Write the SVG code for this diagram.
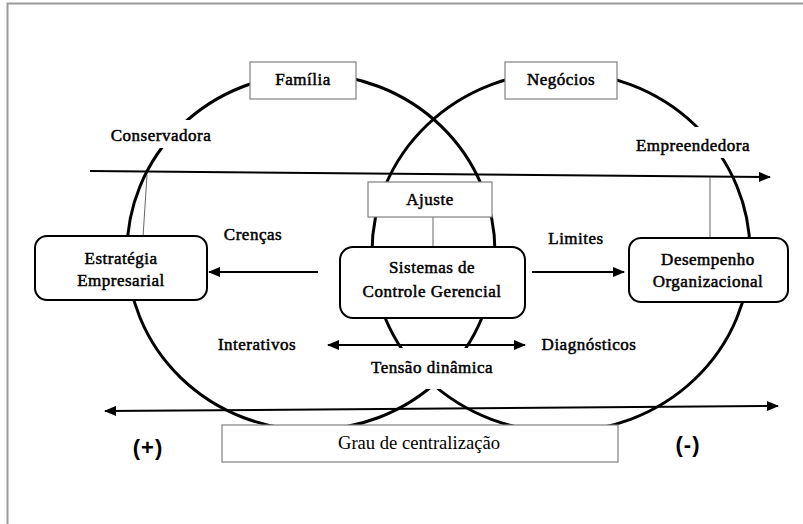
<svg xmlns="http://www.w3.org/2000/svg" width="803" height="524" viewBox="0 0 803 524">
  <style>
    .lbl { font-size: 17px; fill: #000; stroke: #000; stroke-width: 0.5px; text-anchor: middle; letter-spacing: 0.5px; }
    .sign { font-weight: bold; font-size: 22px; fill: #000; text-anchor: middle; letter-spacing: 1px; }
    .sq { fill: #fff; stroke: #808080; stroke-width: 1.2; }
    .rnd { fill: #fff; stroke: #000; stroke-width: 2; }
    .ring { fill: none; stroke: #000; stroke-width: 3; }
    .arr { fill: none; stroke: #000; stroke-width: 2; }
    .thin { fill: none; stroke: #666; stroke-width: 1; }
    .mask { fill: #fff; stroke: none; }
  </style>
  <defs>
    <marker id="head" markerWidth="12" markerHeight="10" refX="11" refY="5" orient="auto-start-reverse" markerUnits="userSpaceOnUse">
      <path d="M0,0 L12,5 L0,10 z" fill="#000"/>
    </marker>
  </defs>

  <rect width="803" height="524" fill="#fff"/>
  <!-- page frame -->
  <path d="M7.5,524 V3.5 H803" fill="none" stroke="#9a9a9a" stroke-width="2"/>

  <!-- two overlapping rings: Família (left) and Negócios (right) -->
  <g id="rings">
    <ellipse class="ring" cx="311" cy="252" rx="184" ry="178"/>
    <ellipse class="ring" cx="561" cy="252" rx="189" ry="180"/>
  </g>

  <!-- connectors -->
  <g id="connectors">
    <line class="arr" x1="90" y1="171" x2="770" y2="177" marker-end="url(#head)"/>
    <line class="arr" x1="105" y1="411" x2="778" y2="406" marker-start="url(#head)" marker-end="url(#head)"/>
    <line class="arr" x1="318" y1="272" x2="209" y2="272" marker-end="url(#head)"/>
    <line class="arr" x1="532" y1="272" x2="624" y2="272" marker-end="url(#head)"/>
    <line class="arr" x1="328" y1="345" x2="525" y2="345" marker-start="url(#head)" marker-end="url(#head)"/>
    <line class="thin" x1="147" y1="175" x2="143" y2="237"/>
    <line class="thin" x1="710" y1="177" x2="710" y2="238"/>
    <line class="thin" x1="433" y1="217" x2="433" y2="247"/>
  </g>

  <g font-family="Liberation Serif, Times New Roman, serif">
    <!-- free labels (white backing breaks the rings) -->
    <g id="conservadora">
      <rect class="mask" x="104" y="120" width="112" height="28"/>
      <text class="lbl" x="161" y="141">Conservadora</text>
    </g>
    <g id="empreendedora">
      <rect class="mask" x="632" y="127" width="124" height="31"/>
      <text class="lbl" x="693" y="151">Empreendedora</text>
    </g>
    <g id="tensao">
      <rect class="mask" x="392" y="348" width="86" height="41"/>
      <text class="lbl" x="432" y="373">Tensão dinâmica</text>
    </g>
    <g id="crencas"><text class="lbl" x="253" y="240">Crenças</text></g>
    <g id="limites"><text class="lbl" x="576" y="244">Limites</text></g>
    <g id="interativos"><text class="lbl" x="257" y="350">Interativos</text></g>
    <g id="diagnosticos"><text class="lbl" x="589" y="350">Diagnósticos</text></g>

    <!-- square boxes -->
    <g id="familia">
      <rect class="sq" x="250" y="62" width="106" height="37"/>
      <text class="lbl" x="303" y="85">Família</text>
    </g>
    <g id="negocios">
      <rect class="sq" x="505" y="62" width="112" height="37"/>
      <text class="lbl" x="561" y="85">Negócios</text>
    </g>
    <g id="ajuste">
      <rect class="sq" x="368" y="182" width="124" height="35"/>
      <text class="lbl" x="430" y="205">Ajuste</text>
    </g>

    <!-- rounded boxes -->
    <g id="estrategia">
      <rect class="rnd" x="35" y="236" width="172" height="64" rx="12"/>
      <text class="lbl" x="121" y="264">Estratégia</text>
      <text class="lbl" x="121" y="286">Empresarial</text>
    </g>
    <g id="sistemas">
      <rect class="rnd" x="340" y="247" width="185" height="71" rx="13"/>
      <text class="lbl" x="432" y="273">Sistemas de</text>
      <text class="lbl" x="432" y="297">Controle Gerencial</text>
    </g>
    <g id="desempenho">
      <rect class="rnd" x="629" y="238" width="159" height="64" rx="12"/>
      <text class="lbl" x="708" y="265">Desempenho</text>
      <text class="lbl" x="708" y="287">Organizacional</text>
    </g>

    <!-- centralisation scale -->
    <g id="grau">
      <rect class="sq" x="222" y="425" width="396" height="37"/>
      <text x="419" y="449" font-size="19" text-anchor="middle" textLength="162" lengthAdjust="spacingAndGlyphs">Grau de centralização</text>
    </g>
  </g>
  <g font-family="Liberation Sans, Arial, sans-serif">
    <g id="mais"><text class="sign" x="148" y="455">(+)</text></g>
    <g id="menos"><text class="sign" x="688" y="452">(-)</text></g>
  </g>
</svg>
